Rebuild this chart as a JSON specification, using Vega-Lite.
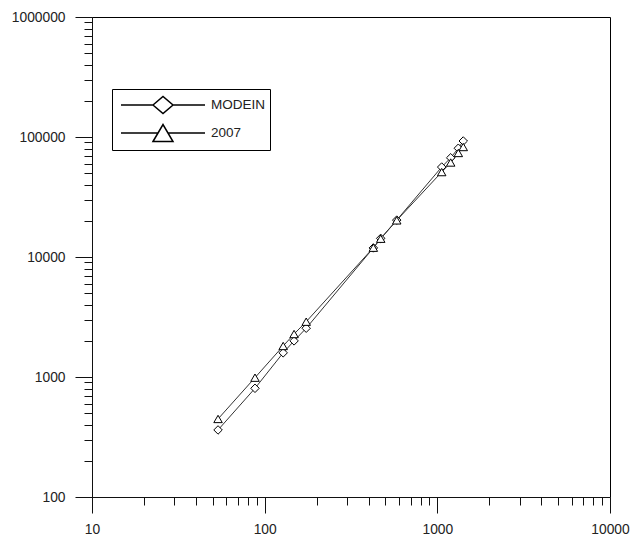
{
  "$schema": "https://vega.github.io/schema/vega-lite/v6.json",
  "width": 518,
  "height": 480,
  "autosize": {"type": "none"},
  "padding": {"left": 92, "top": 17, "right": 31, "bottom": 39},
  "background": "white",
  "config": {
    "view": {"stroke": "black", "strokeWidth": 1},
    "axis": {
      "grid": false,
      "domainColor": "#111",
      "tickColor": "#111",
      "labelColor": "#222",
      "labelFont": "Liberation Sans",
      "labelFontSize": 13.8,
      "labelOverlap": false,
      "labelFlush": false,
      "labelBound": false,
      "title": null
    }
  },
  "data": {
    "values": [
      {"series": "MODEIN", "x": 53.7, "y": 362},
      {"series": "MODEIN", "x": 87.9, "y": 805},
      {"series": "MODEIN", "x": 128, "y": 1590},
      {"series": "MODEIN", "x": 148, "y": 2000},
      {"series": "MODEIN", "x": 174, "y": 2550},
      {"series": "MODEIN", "x": 426, "y": 11900},
      {"series": "MODEIN", "x": 470, "y": 14300},
      {"series": "MODEIN", "x": 582, "y": 20300},
      {"series": "MODEIN", "x": 1060, "y": 56200},
      {"series": "MODEIN", "x": 1195, "y": 67100},
      {"series": "MODEIN", "x": 1323, "y": 80600},
      {"series": "MODEIN", "x": 1413, "y": 92600},
      {"series": "2007", "x": 53.7, "y": 447},
      {"series": "2007", "x": 87.9, "y": 987},
      {"series": "2007", "x": 128, "y": 1813},
      {"series": "2007", "x": 148, "y": 2281},
      {"series": "2007", "x": 174, "y": 2890},
      {"series": "2007", "x": 426, "y": 11950},
      {"series": "2007", "x": 470, "y": 14200},
      {"series": "2007", "x": 582, "y": 20200},
      {"series": "2007", "x": 1060, "y": 51000},
      {"series": "2007", "x": 1195, "y": 61300},
      {"series": "2007", "x": 1323, "y": 73600},
      {"series": "2007", "x": 1413, "y": 82500}
    ]
  },
  "encoding": {
    "x": {
      "field": "x",
      "type": "quantitative",
      "scale": {"type": "log", "domain": [10, 10000], "nice": false},
      "axis": {
        "values": [10,20,30,40,50,60,70,80,90,100,200,300,400,500,600,700,800,900,1000,2000,3000,4000,5000,6000,7000,8000,9000,10000],
        "tickSize": {"condition": {"test": "indexof([10,100,1000,10000], datum.value) >= 0", "value": 16}, "value": 8},
        "labelExpr": "indexof([10,100,1000,10000], datum.value) >= 0 ? format(datum.value, 'd') : ''",
        "labelPadding": 9
      }
    },
    "y": {
      "field": "y",
      "type": "quantitative",
      "scale": {"type": "log", "domain": [100, 1000000], "nice": false},
      "axis": {
        "values": [100,200,300,400,500,600,700,800,900,1000,2000,3000,4000,5000,6000,7000,8000,9000,10000,20000,30000,40000,50000,60000,70000,80000,90000,100000,200000,300000,400000,500000,600000,700000,800000,900000,1000000],
        "tickSize": {"condition": {"test": "indexof([100,1000,10000,100000,1000000], datum.value) >= 0", "value": 17}, "value": 8},
        "labelExpr": "indexof([100,1000,10000,100000,1000000], datum.value) >= 0 ? format(datum.value, 'd') : ''",
        "labelPadding": 10
      }
    }
  },
  "layer": [
    {
      "mark": {"type": "line", "color": "#333", "strokeWidth": 1},
      "encoding": {
        "detail": {"field": "series", "type": "nominal"},
        "order": {"field": "x", "type": "quantitative"}
      }
    },
    {
      "mark": {"type": "point", "filled": true, "fill": "white", "stroke": "black", "strokeWidth": 1, "opacity": 1, "size": 72},
      "encoding": {
        "shape": {
          "field": "series",
          "type": "nominal",
          "scale": {"domain": ["MODEIN", "2007"], "range": ["diamond", "triangle-up"]},
          "legend": null
        }
      }
    },
    {
      "transform": [{"filter": "datum.x < 0"}],
      "mark": {"type": "point", "filled": true, "fill": "white", "stroke": "black", "strokeWidth": 1.5, "opacity": 1, "size": 400},
      "encoding": {
        "shape": {
          "field": "series",
          "type": "nominal",
          "scale": {"domain": ["MODEIN", "2007"], "range": ["M-4.2,0L-1,0M1,0L4.2,0M-1,0L0,-0.85L1,0L0,0.85Z", "M-4.2,0L-0.5,0M0.5,0L4.2,0M-1,0.85L0,-0.85L1,0.85Z"]},
          "legend": {
            "orient": "none",
            "legendX": 20,
            "legendY": 72,
            "title": null,
            "padding": 5,
            "strokeColor": "black",
            "fillColor": "white",
            "symbolSize": 400,
            "symbolOffset": 35,
            "labelOffset": 37,
            "rowPadding": 4,
            "symbolStrokeWidth": 1.5,
            "labelFont": "Liberation Sans",
            "labelFontSize": 13.5,
            "labelColor": "#222"
          }
        }
      }
    }
  ],
  "resolve": {"scale": {"shape": "independent"}}
}
